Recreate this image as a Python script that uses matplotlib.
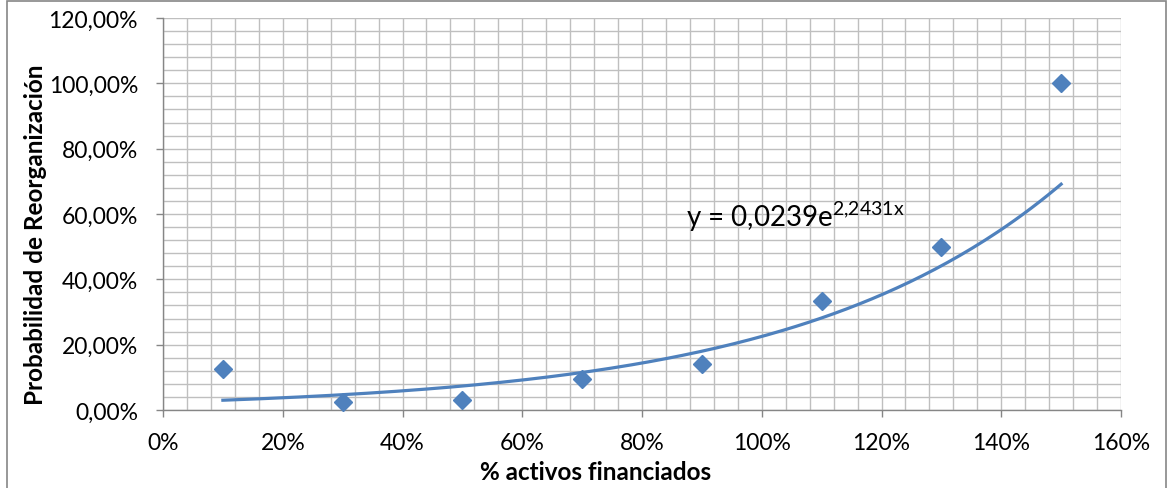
import numpy as np
import matplotlib
matplotlib.use("Agg")
import matplotlib.pyplot as plt
from matplotlib.patches import Rectangle
from matplotlib.ticker import FixedLocator, MultipleLocator, FuncFormatter

plt.rcParams['font.family'] = ['Lato', 'DejaVu Sans']
plt.rcParams['mathtext.fontset'] = 'custom'
plt.rcParams['mathtext.rm'] = 'Lato'
plt.rcParams['mathtext.it'] = 'Lato'

# data (fractions)
activos = [0.10, 0.30, 0.50, 0.70, 0.90, 1.10, 1.30, 1.50]
probabilidad = [0.125, 0.023, 0.031, 0.095, 0.141, 0.333, 0.50, 1.00]
trend_a = 0.0239
trend_b = 2.2431
x_ticks = [0.0, 0.2, 0.4, 0.6, 0.8, 1.0, 1.2, 1.4, 1.6]
y_ticks = [0.0, 0.2, 0.4, 0.6, 0.8, 1.0, 1.2]
x_label = "% activos financiados"
y_label = "Probabilidad de Reorganización"
eq_label = r"y = 0,0239e$^{\mathrm{2{,}2431x}}$"

blue = '#4F81BD'
grid_c = '#BFBFBF'
axis_c = '#868686'

fig = plt.figure(figsize=(11.68, 4.89), dpi=100)
ax = fig.add_axes([163/1168, 1-411/489, (1121-163)/1168, (411-19)/489])

ax.set_xlim(0, 1.6)
ax.set_ylim(0, 1.2)
ax.xaxis.set_major_locator(FixedLocator(x_ticks))
ax.yaxis.set_major_locator(FixedLocator(y_ticks))
ax.xaxis.set_minor_locator(MultipleLocator(0.04))
ax.yaxis.set_minor_locator(MultipleLocator(0.04))
ax.xaxis.set_major_formatter(FuncFormatter(lambda v, p: f"{v*100:.0f}%"))
ax.yaxis.set_major_formatter(FuncFormatter(lambda v, p: f"{v*100:.2f}%".replace('.', ',')))

ax.grid(True, which='both', color=grid_c, linewidth=1.0)
ax.set_axisbelow(True)
for s in ['top', 'right']:
    ax.spines[s].set_visible(False)
for s in ['left', 'bottom']:
    ax.spines[s].set_color(axis_c)
    ax.spines[s].set_linewidth(1.0)

ax.tick_params(which='major', direction='out', length=5, width=1.0, color=axis_c,
               labelsize=16.5, pad=13)
ax.tick_params(axis='x', which='major', pad=10.5)
ax.tick_params(which='minor', length=0)

# trendline
xt = np.linspace(activos[0], activos[-1], 200)
ax.plot(xt, trend_a*np.exp(trend_b*xt), color=blue, linewidth=2.3, zorder=3)
ax.plot(activos, probabilidad, linestyle='none', marker='D', markersize=9,
        color=blue, zorder=4, clip_on=False)

ax.text(686/1168, 1-227/489, eq_label, transform=fig.transFigure, fontsize=20,
        ha='left', va='baseline')

fig.text(596/1168, 1-472/489, x_label, ha='center', va='center',
         fontsize=17.5, fontweight='bold')
fig.text(36/1168, 1-235/489, y_label, ha='center', va='center', rotation=90,
         fontsize=17.5, fontweight='bold')

# chart frame
fig.patches.append(Rectangle((7/1168, -0.05), (1166-7)/1168, 1.05-2/489,
                             transform=fig.transFigure, fill=False,
                             edgecolor=axis_c, linewidth=1.2))

fig.savefig('out.png', dpi=100)
